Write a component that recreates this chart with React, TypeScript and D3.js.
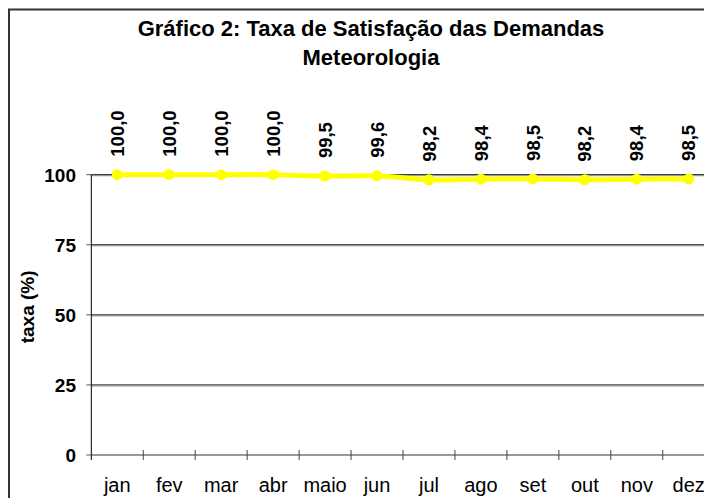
import * as d3 from "d3";

const months = ["jan", "fev", "mar", "abr", "maio", "jun", "jul", "ago", "set", "out", "nov", "dez"];
const taxa = [100.0, 100.0, 100.0, 100.0, 99.5, 99.6, 98.2, 98.4, 98.5, 98.2, 98.4, 98.5];
const yTicks = [0, 25, 50, 75, 100];

const W = 704;
const H = 498;
const left = 91.3;
const bandW = 51.95;
const top = 174.7;
const bottom = 455;
const font = "'Liberation Sans', Arial, sans-serif";

export default function App() {
  const x = d3
    .scaleBand<string>()
    .domain(months)
    .range([left, left + bandW * months.length])
    .padding(0);
  const y = d3.scaleLinear().domain([0, 100]).range([bottom, top]);
  const cx = (m: string) => (x(m) ?? 0) + x.bandwidth() / 2;

  const line = d3
    .line<number>()
    .x((_, i) => cx(months[i]))
    .y((d) => y(d))
    .curve(d3.curveCatmullRom.alpha(0.5));

  const fmt = (v: number) => v.toFixed(1).replace(".", ",");
  const plotRight = left + bandW * months.length;

  return (
    <svg
      width={W}
      height={H}
      style={{ position: "absolute", left: 0, top: 0, background: "#fff" }}
      fontFamily={font}
    >
      <rect x={9} y={9.5} width={760} height={560} fill="#fff" stroke="#333" strokeWidth={2} />

      <text x={371} y={36} textAnchor="middle" fontSize={22} fontWeight="bold" fill="#000">
        Gráfico 2: Taxa de Satisfação das Demandas
      </text>
      <text x={371} y={65} textAnchor="middle" fontSize={22} fontWeight="bold" fill="#000">
        Meteorologia
      </text>

      {/* grid lines */}
      {yTicks.filter((t) => t > 0).map((t) => (
        <g key={t}>
          <line x1={left} x2={plotRight} y1={y(t)} y2={y(t)} stroke="#111" strokeWidth={1} />
          <line x1={left} x2={plotRight} y1={y(t) + 1} y2={y(t) + 1} stroke="#888" strokeWidth={1} />
        </g>
      ))}

      {/* x axis */}
      <line x1={left} x2={plotRight} y1={bottom} y2={bottom} stroke="#777" strokeWidth={1.5} />
      {months.map((m) => (
        <line
          key={"t" + m}
          x1={(x(m) ?? 0) + bandW}
          x2={(x(m) ?? 0) + bandW}
          y1={bottom - 5}
          y2={bottom + 5}
          stroke="#444"
          strokeWidth={1}
        />
      ))}
      {months.map((m) => (
        <text key={m} x={cx(m)} y={492} textAnchor="middle" fontSize={20} fill="#000">
          {m}
        </text>
      ))}

      {/* y axis */}
      <line x1={left} x2={left} y1={top} y2={bottom + 5} stroke="#000" strokeWidth={1} />
      {yTicks.map((t) => (
        <g key={"y" + t}>
          <line x1={left - 5} x2={left} y1={y(t)} y2={y(t)} stroke="#555" strokeWidth={1} />
          <text
            x={76}
            y={y(t)}
            dy="0.36em"
            textAnchor="end"
            fontSize={19}
            fontWeight="bold"
            fill="#000"
          >
            {t}
          </text>
        </g>
      ))}
      <text
        transform={`translate(27,${(top + bottom) / 2 - 8}) rotate(-90)`}
        dy="0.36em"
        textAnchor="middle"
        fontSize={19}
        fontWeight="bold"
        fill="#000"
      >
        taxa (%)
      </text>

      {/* series */}
      <path d={line(taxa) ?? ""} fill="none" stroke="#ffff00" strokeWidth={5} />
      {taxa.map((v, i) => (
        <circle key={"c" + i} cx={cx(months[i])} cy={y(v)} r={5.5} fill="#ffff00" />
      ))}
      {taxa.map((v, i) => (
        <text
          key={"l" + i}
          transform={`translate(${cx(months[i])},${y(v) - 18}) rotate(-90)`}
          dy="0.36em"
          textAnchor="start"
          fontSize={18.5}
          fontWeight="bold"
          fill="#000"
        >
          {fmt(v)}
        </text>
      ))}
    </svg>
  );
}
